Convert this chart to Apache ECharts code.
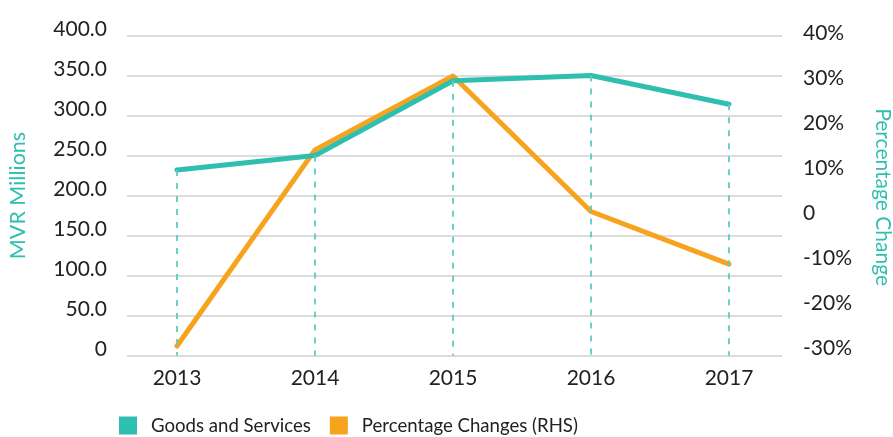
<!DOCTYPE html>
<html>
<head>
<meta charset="utf-8">
<script src="https://cdn.jsdelivr.net/npm/echarts@6/dist/echarts.min.js"></script>
<style>html,body{margin:0;padding:0;background:#fff}#c{width:893px;height:437px}</style>
</head>
<body>
<div id="c"></div>
<script>
const categories = ['2013', '2014', '2015', '2016', '2017'];
const goodsServices = [232, 250, 343.5, 350, 314];
const pctChange = [-28.1, 15.5, 31.9, 1.8, -9.9];
const leftTicks = [0, 50, 100, 150, 200, 250, 300, 350, 400];
const rightTicks = [-30, -20, -10, 0, 10, 20, 30, 40];

const teal = '#2fbfb1';
const orange = '#f8a31e';
const font = 'Lato';

const chart = echarts.init(document.getElementById('c'));
chart.setOption({
  animation: false,
  textStyle: { fontFamily: font },
  grid: [
    { left: 127, right: 111, top: 35.5, bottom: 81.5, outerBoundsMode: 'none', containLabel: false },
    { left: 108, right: 95, top: 35.5, bottom: 81.5, outerBoundsMode: 'none', containLabel: false },
    { left: 108, right: 95, top: 39.6, bottom: 82.4, outerBoundsMode: 'none', containLabel: false }
  ],
  legend: {
    left: 119, top: 416, padding: 0,
    itemWidth: 18, itemHeight: 18, itemGap: 19,
    icon: 'rect',
    textStyle: { fontFamily: font, fontSize: 18.6, color: '#222', padding: [0, 0, 0, 9] },
    data: [
      { name: 'Goods and Services', itemStyle: { color: teal } },
      { name: 'Percentage Changes (RHS)', itemStyle: { color: orange } }
    ]
  },
  xAxis: [
    { gridIndex: 0, type: 'category', data: categories, show: false },
    {
      gridIndex: 1, type: 'category', data: categories, boundaryGap: true,
      axisLine: { show: false }, axisTick: { show: false },
      axisLabel: { fontFamily: font, fontSize: 21, color: '#222', margin: 12 }
    },
    { gridIndex: 2, type: 'category', data: categories, boundaryGap: true, show: false }
  ],
  yAxis: [
    {
      gridIndex: 0, type: 'value', min: leftTicks[0], max: leftTicks[leftTicks.length - 1], interval: 50,
      name: 'MVR Millions', nameLocation: 'middle', nameGap: 98, nameRotate: 90,
      nameTextStyle: { color: teal, fontFamily: font, fontSize: 21.5 },
      axisLine: { show: false }, axisTick: { show: false },
      axisLabel: { fontFamily: font, fontSize: 21, color: '#222', margin: 20,
        verticalAlign: 'bottom', lineHeight: 12.6,
        formatter: v => v === 0 ? '0' : v.toFixed(1) },
      splitLine: { lineStyle: { color: '#dcdcdc', width: 2 } }
    },
    { gridIndex: 1, type: 'value', min: 0, max: 400, show: false },
    {
      gridIndex: 2, type: 'value', position: 'right', min: rightTicks[0], max: rightTicks[rightTicks.length - 1], interval: 10,
      name: 'Percentage Change', nameLocation: 'middle', nameGap: 74, nameRotate: -90,
      nameTextStyle: { color: teal, fontFamily: font, fontSize: 21 },
      axisLine: { show: false }, axisTick: { show: false },
      axisLabel: { fontFamily: font, fontSize: 21, color: '#222', margin: 5,
        verticalAlign: 'bottom', lineHeight: 12.6,
        formatter: v => v === 0 ? '0' : v + '%' },
      splitLine: { show: false }
    }
  ],
  series: [
    {
      name: 'Goods and Services', type: 'line', xAxisIndex: 1, yAxisIndex: 1,
      data: goodsServices, showSymbol: false, symbol: 'none',
      lineStyle: { color: teal, width: 5, cap: 'round', join: 'round' },
      itemStyle: { color: teal },
      z: 3,
      markLine: {
        silent: true, symbol: 'none', label: { show: false },
        lineStyle: { color: '#5ccdc3', type: [6, 7], width: 1.8 },
        data: categories.map((c, i) => [{ coord: [c, goodsServices[i]] }, { coord: [c, 0] }])
      }
    },
    {
      name: 'Percentage Changes (RHS)', type: 'line', xAxisIndex: 2, yAxisIndex: 2,
      data: pctChange, showSymbol: false, symbol: 'none',
      lineStyle: { color: orange, width: 5, cap: 'round', join: 'round' },
      itemStyle: { color: orange },
      z: 2
    }
  ]
});
</script>
</body>
</html>
